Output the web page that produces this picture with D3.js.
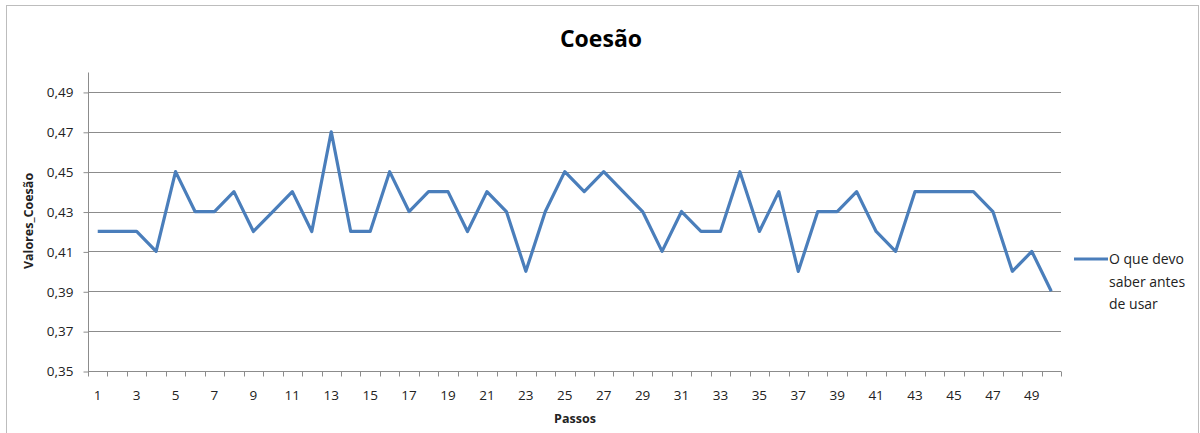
<!DOCTYPE html>
<html>
<head>
<meta charset="utf-8">
<script src="https://cdn.jsdelivr.net/npm/d3@7"></script>
<style>
  html, body { margin: 0; padding: 0; background: #fff; }
  svg { display: block; }
  text { font-family: "Open Sans", "Liberation Sans", sans-serif; }
</style>
</head>
<body>
<svg id="chart" width="1200" height="433"></svg>
<script>
// Cohesion values per step
const passos = d3.range(1, 51);
const valores = [
  0.42, 0.42, 0.42, 0.41, 0.45, 0.43, 0.43, 0.44, 0.42, 0.43,
  0.44, 0.42, 0.47, 0.42, 0.42, 0.45, 0.43, 0.44, 0.44, 0.42,
  0.44, 0.43, 0.40, 0.43, 0.45, 0.44, 0.45, 0.44, 0.43, 0.41,
  0.43, 0.42, 0.42, 0.45, 0.42, 0.44, 0.40, 0.43, 0.43, 0.44,
  0.42, 0.41, 0.44, 0.44, 0.44, 0.44, 0.43, 0.40, 0.41, 0.39
];
const yTicks = [0.35, 0.37, 0.39, 0.41, 0.43, 0.45, 0.47, 0.49];
const serieNome = ["O que devo", "saber antes", "de usar"];

const svg = d3.select("#chart");
const plot = { left: 88, right: 1061, top: 72, bottom: 371 };
const lineColor = "#4a7ebb";
const gridColor = "#8c8c8c";

// chart frame
svg.append("rect")
  .attr("x", 6.5).attr("y", 5.5).attr("width", 1192).attr("height", 440)
  .attr("fill", "none").attr("stroke", "#bdbdbd").attr("stroke-width", 1);

const x = d3.scaleBand().domain(passos).range([plot.left, plot.right]);
const y = d3.scaleLinear().domain([0.35, 0.50]).range([plot.bottom, plot.top]);

// horizontal gridlines
svg.append("g")
  .selectAll("line")
  .data(yTicks.slice(1))
  .join("line")
  .attr("x1", plot.left).attr("x2", plot.right)
  .attr("y1", d => Math.round(y(d)) + 0.5).attr("y2", d => Math.round(y(d)) + 0.5)
  .attr("stroke", gridColor).attr("stroke-width", 1);

// y axis
const yAxis = d3.axisLeft(y)
  .tickValues(yTicks)
  .tickSize(5)
  .tickPadding(10)
  .tickFormat(d => d3.format(".2f")(d).replace(".", ","));
const gy = svg.append("g")
  .attr("transform", `translate(${plot.left + 0.5},0.5)`)
  .call(yAxis);
gy.select(".domain").attr("stroke", gridColor).attr("d", `M0,${plot.top}V${plot.bottom}`);
gy.selectAll(".tick line").attr("stroke", gridColor);
gy.selectAll(".tick text").attr("font-size", 13.5).attr("fill", "#222")
  .attr("font-family", "'Open Sans', sans-serif");

// x axis: ticks on category boundaries, labels on odd steps
const gx = svg.append("g").attr("transform", `translate(0,${plot.bottom + 0.5})`);
gx.append("line")
  .attr("x1", plot.left).attr("x2", plot.right)
  .attr("stroke", gridColor);
const bounds = passos.map(p => x(p)).concat([plot.right]);
gx.selectAll("line.tk")
  .data(bounds)
  .join("line")
  .attr("class", "tk")
  .attr("x1", d => Math.round(d) + 0.5).attr("x2", d => Math.round(d) + 0.5)
  .attr("y1", 0).attr("y2", 5)
  .attr("stroke", gridColor);
gx.selectAll("text")
  .data(passos.filter(p => p % 2 === 1))
  .join("text")
  .attr("x", d => x(d) + x.bandwidth() / 2)
  .attr("y", 28)
  .attr("text-anchor", "middle")
  .attr("font-size", 13.5)
  .attr("fill", "#222")
  .text(d => d);

// series line
const line = d3.line()
  .x((d, i) => x(passos[i]) + x.bandwidth() / 2)
  .y(d => y(d));
svg.append("path")
  .datum(valores)
  .attr("d", line)
  .attr("fill", "none")
  .attr("stroke", lineColor)
  .attr("stroke-width", 3.2)
  .attr("stroke-linejoin", "round");

// titles
svg.append("text")
  .attr("x", 601).attr("y", 47)
  .attr("text-anchor", "middle")
  .attr("font-size", 23).attr("font-weight", "bold")
  .attr("fill", "#000")
  .text("Coesão");

svg.append("text")
  .attr("x", 575).attr("y", 423)
  .attr("text-anchor", "middle")
  .attr("font-size", 12.5).attr("font-weight", "bold")
  .attr("fill", "#222")
  .text("Passos");

svg.append("text")
  .attr("transform", "translate(33,221) rotate(-90)")
  .attr("text-anchor", "middle")
  .attr("font-size", 12.5).attr("font-weight", "bold")
  .attr("fill", "#222")
  .text("Valores_Coesão");

// legend
const lg = svg.append("g");
lg.append("line")
  .attr("x1", 1074).attr("x2", 1108)
  .attr("y1", 259).attr("y2", 259)
  .attr("stroke", lineColor).attr("stroke-width", 3.2);
lg.selectAll("text")
  .data(serieNome)
  .join("text")
  .attr("x", 1109)
  .attr("y", (d, i) => 264 + i * 22.5)
  .attr("font-size", 14)
  .attr("fill", "#222")
  .text(d => d);
</script>
</body>
</html>
